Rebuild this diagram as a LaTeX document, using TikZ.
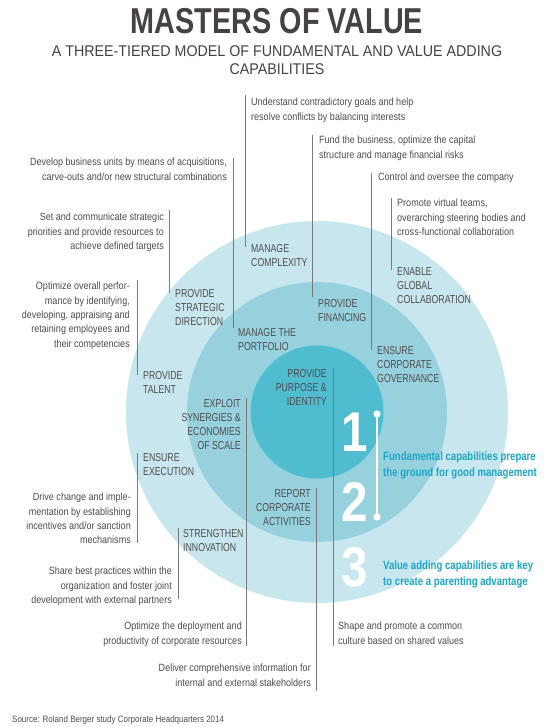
\documentclass[tikz,border=0pt]{standalone}
\usepackage{fontspec}
\setmainfont{Liberation Sans}
\newfontfamily\mvbodyf[FakeStretch=0.86]{Liberation Sans}
\newfontfamily\mvlabf[FakeStretch=0.76]{Liberation Sans}
\newfontfamily\mvtitf[FakeStretch=0.8]{Liberation Sans}
\newfontfamily\mvsubf[FakeStretch=0.92]{Liberation Sans}
\newfontfamily\mvbluef[FakeStretch=0.8]{Liberation Sans}
\newfontfamily\mvnumf[FakeStretch=0.85]{Liberation Sans}
\definecolor{outerc}{HTML}{C8E6EE}
\definecolor{midc}{HTML}{98D1DE}
\definecolor{innerc}{HTML}{4FBCCF}
\definecolor{bodygray}{HTML}{4D4D4D}
\definecolor{titlegray}{HTML}{474242}
\definecolor{linegray}{HTML}{7A7A7A}
\definecolor{accent}{HTML}{1BA6C6}
\tikzset{
  bodytxt/.style={font=\mvbodyf\fontsize{10.5}{14.3}\selectfont, text=bodygray, inner sep=0pt},
  bodyL/.style={bodytxt, align=left, anchor=north west},
  bodyR/.style={bodytxt, align=right, anchor=north east},
  labtxt/.style={font=\mvlabf\fontsize{11.5}{14}\selectfont, text=bodygray, inner sep=0pt},
  labL/.style={labtxt, align=left, anchor=north west},
  labR/.style={labtxt, align=right, anchor=north east},
  lead/.style={draw=linegray, line width=0.7pt},
  bluetxt/.style={font=\mvbluef\bfseries\fontsize{12}{15.5}\selectfont, text=accent, inner sep=0pt, align=left, anchor=north west},
  numtxt/.style={font=\mvnumf\bfseries\fontsize{56}{56}\selectfont, text=white, inner sep=0pt}
}
\begin{document}
\begin{tikzpicture}[x=1pt,y=-1pt]
\useasboundingbox (0,0) rectangle (558,727);
\fill[white] (0,0) rectangle (558,727);

% circles
\coordinate (ctr) at (317,412);
\fill[outerc] (ctr) circle[radius=191];
\fill[midc] (ctr) circle[radius=130];
\fill[innerc] (ctr) circle[radius=66.5];

% title
\node[font=\mvtitf\bfseries\fontsize{36}{36}\selectfont, text=titlegray, inner sep=0pt, anchor=base] (title) at (277,34) {MASTERS OF VALUE};
\node[font=\mvsubf\fontsize{15.5}{18}\selectfont, text=titlegray, inner sep=0pt, align=center, anchor=north] (sub) at (277,45) {A THREE-TIERED MODEL OF FUNDAMENTAL AND VALUE ADDING\\CAPABILITIES};

% leader line coordinates
\coordinate (a1) at (245,95);  \coordinate (b1) at (245,247);
\coordinate (a2) at (312,135); \coordinate (b2) at (312,297);
\coordinate (a3) at (371,173); \coordinate (b3) at (371,350);
\coordinate (a4) at (391,198); \coordinate (b4) at (391,270);
\coordinate (a5) at (233,158); \coordinate (b5) at (233,328);
\coordinate (a6) at (169,210); \coordinate (b6) at (169,293);
\coordinate (a7) at (137,280); \coordinate (b7) at (137,375);
\coordinate (a8) at (246,398); \coordinate (b8) at (246,646);
\coordinate (a9) at (333,368); \coordinate (b9) at (333,646);
\coordinate (a10) at (316,488); \coordinate (b10) at (316,691);
\coordinate (a11) at (137,453); \coordinate (b11) at (137,543);
\coordinate (a12) at (178,528); \coordinate (b12) at (178,599);
\foreach \i in {1,...,12} {\draw[lead] (a\i) -- (b\i);}

% descriptions
\node[bodyL] (d1) at (251,98) {Understand contradictory goals and help\\resolve conflicts by balancing interests};
\node[bodyL] (d2) at (319,136) {Fund the business, optimize the capital\\structure and manage financial risks};
\node[bodyL] (d3) at (378,173) {Control and oversee the company};
\node[bodyL] (d4) at (397,199) {Promote virtual teams,\\overarching steering bodies and\\cross-functional collaboration};
\node[bodyR] (d5) at (227,158) {Develop business units by means of acquisitions,\\carve-outs and/or new structural combinations};
\node[bodyR] (d6) at (164,213) {Set and communicate strategic\\priorities and provide resources to\\achieve defined targets};
\node[bodyR] (d7) at (130,282) {Optimize overall perfor-\\mance by identifying,\\developing, appraising and\\retaining employees and\\their competencies};
\node[bodyR] (d8) at (131,493) {Drive change and imple-\\mentation by establishing\\incentives and/or sanction\\mechanisms};
\node[bodyR] (d9) at (172,567) {Share best practices within the\\organization and foster joint\\development with external partners};
\node[bodyR] (d10) at (242,622) {Optimize the deployment and\\productivity of corporate resources};
\node[bodyR] (d11) at (311,664) {Deliver comprehensive information for\\internal and external stakeholders};
\node[bodyL] (d12) at (338,622) {Shape and promote a common\\culture based on shared values};

% capability labels
\node[labL] (c1) at (251,244) {MANAGE\\COMPLEXITY};
\node[labL] (c2) at (318,299) {PROVIDE\\FINANCING};
\node[labL] (c3) at (377,346) {ENSURE\\CORPORATE\\GOVERNANCE};
\node[labL] (c4) at (397,267) {ENABLE\\GLOBAL\\COLLABORATION};
\node[labL] (c5) at (238,328) {MANAGE THE\\PORTFOLIO};
\node[labL] (c6) at (175,289) {PROVIDE\\STRATEGIC\\DIRECTION};
\node[labL] (c7) at (143,371) {PROVIDE\\TALENT};
\node[labR] (c8) at (241,399) {EXPLOIT\\SYNERGIES \&\\ECONOMIES\\OF SCALE};
\node[labR] (c9) at (327,369) {PROVIDE\\PURPOSE \&\\IDENTITY};
\node[labR] (c10) at (311,489) {REPORT\\CORPORATE\\ACTIVITIES};
\node[labL] (c11) at (143,453) {ENSURE\\EXECUTION};
\node[labL] (c12) at (183,529) {STRENGTHEN\\INNOVATION};

% numbers
\node[numtxt] (n1) at (355,432) {1};
\node[numtxt] (n2) at (355,502) {2};
\node[numtxt] (n3) at (355,567) {3};

% white bracket
\coordinate (w1) at (377,414);
\coordinate (w2) at (377,517);
\draw[white, line width=1.6pt] (w1) -- (w2);
\fill[white] (w1) circle[radius=3.6];
\fill[white] (w2) circle[radius=3.6];

% blue statements
\node[bluetxt] (t1) at (383,452) {Fundamental capabilities prepare\\the ground for good management};
\node[bluetxt] (t2) at (383,561) {Value adding capabilities are key\\to create a parenting advantage};

% source
\node[font=\mvbodyf\fontsize{9.3}{11}\selectfont, text=bodygray, inner sep=0pt, anchor=north west] (src) at (12,716) {Source: Roland Berger study Corporate Headquarters 2014};
\end{tikzpicture}
\end{document}
